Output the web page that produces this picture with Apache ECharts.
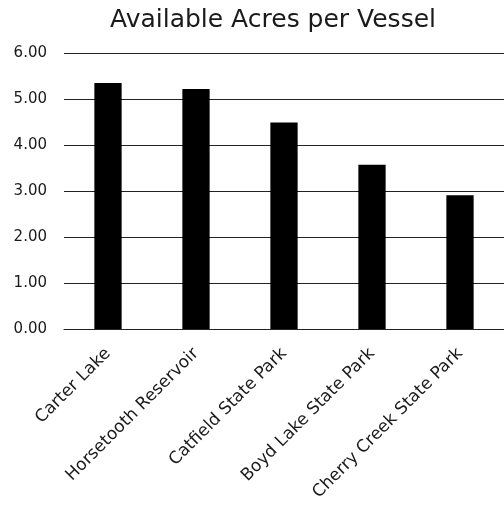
<!DOCTYPE html>
<html><head><meta charset="utf-8">
<script src="https://cdn.jsdelivr.net/npm/echarts@6/dist/echarts.min.js"></script>
<style>html,body{margin:0;padding:0;background:#fff}#c{width:504px;height:510px}</style>
</head><body><div id="c"></div>
<script>
const categories = ["Carter Lake","Horsetooth Reservoir","Catfield State Park","Boyd Lake State Park","Cherry Creek State Park"];
const acresPerVessel = [5.35, 5.22, 4.49, 3.57, 2.91];
const yTicks = {min: 0, max: 6, interval: 1};

const chart = echarts.init(document.getElementById('c'));
chart.setOption({
  animation: false,
  backgroundColor: '#fff',
  title: {
    text: 'Available Acres per Vessel',
    left: 268, top: 3, textAlign: 'center',
    textStyle: {fontFamily: 'DejaVu Sans', fontSize: 25, fontWeight: 'normal', color: '#1a1a1a'}
  },
  grid: {left: 64, top: 53, width: 445, height: 276},
  xAxis: {
    type: 'category', data: categories,
    axisLine: {lineStyle: {color: '#222', width: 1}},
    axisTick: {show: false},
    axisLabel: {rotate: 45, interval: 0, margin: 22, fontFamily: 'DejaVu Sans', fontSize: 17, color: '#1a1a1a'}
  },
  yAxis: {
    type: 'value', min: yTicks.min, max: yTicks.max, interval: yTicks.interval,
    axisLine: {show: false}, axisTick: {show: false},
    splitLine: {lineStyle: {color: '#222', width: 1}},
    axisLabel: {margin: 17, fontFamily: 'DejaVu Sans', fontSize: 15, color: '#1a1a1a',
      formatter: v => v.toFixed(2)}
  },
  series: [{
    type: 'bar', data: acresPerVessel, barWidth: '31%',
    itemStyle: {color: '#000'}
  }]
});
</script></body></html>
